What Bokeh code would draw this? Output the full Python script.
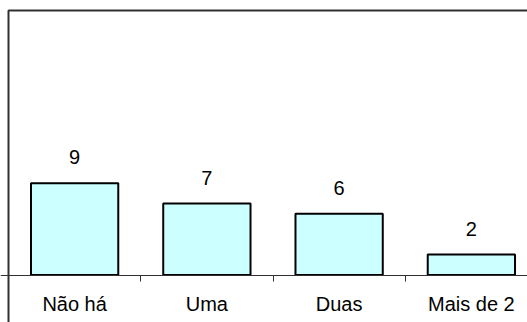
from bokeh.plotting import figure
from bokeh.models import (ColumnDataSource, LinearAxis, FixedTicker, Range1d,
                          LabelSet)
from bokeh.core.properties import value
from bokeh.embed import file_html
from bokeh.resources import INLINE

# Data
categories = ["Não há", "Uma", "Duas", "Mais de 2"]
counts = [9, 7, 6, 2]

FONT = "Liberation Sans"
W, H = 527, 322

# Pixel layout of the plot: origin of the category axis and scale
X0_PX = 8.0        # left edge of the first category
CAT_PX = 132.25    # width of one category slot
Y0_PX = 274.5      # baseline (value 0)
UNIT_PX = 10.2     # pixels per count
TOP_PX = 10.0      # top border

x_start = -X0_PX / CAT_PX
x_end = (W - X0_PX) / CAT_PX
y_end = Y0_PX / UNIT_PX
y_start = -(H - Y0_PX) / UNIT_PX
y_border = (Y0_PX - TOP_PX) / UNIT_PX

p = figure(width=W, height=H, output_backend="svg", toolbar_location=None,
           x_axis_type=None, y_axis_type=None,
           x_range=Range1d(x_start, x_end), y_range=Range1d(y_start, y_end),
           min_border=0, min_border_left=0, min_border_right=0,
           min_border_top=0, min_border_bottom=0)
p.outline_line_color = None
p.grid.visible = False
p.background_fill_color = "white"
p.border_fill_color = "white"

centers = [i + 0.5 for i in range(len(categories))]
src = ColumnDataSource(dict(x=centers, top=counts, cat=categories,
                            lab=[str(c) for c in counts]))

# Chart border (left and top edges visible)
p.quad(left=[0], right=[x_end + 1], top=[y_border], bottom=[y_start - 1],
       fill_color=None, line_color="#303030", line_width=2)

# Bars
p.vbar(x="x", top="top", bottom=0, width=0.66, source=src,
       fill_color="#CCFFFF", line_color="#000000", line_width=2)

# Value labels above the bars
labels = LabelSet(x="x", y="top", text="lab", source=src, y_offset=26,
                  text_align="center", text_baseline="middle",
                  text_font=value(FONT), text_font_size=value("20px"),
                  text_color="black")
p.add_layout(labels)

# Category axis: tick marks between categories
tick_axis = LinearAxis(ticker=FixedTicker(ticks=[1, 2, 3]), fixed_location=0,
                       major_label_text_alpha=0, major_label_text_font_size="1px",
                       major_tick_in=0, major_tick_out=6,
                       major_tick_line_color="#303030",
                       minor_tick_line_color=None,
                       axis_line_color="#303030", axis_line_width=1)
p.add_layout(tick_axis, "below")

# Category axis: labels centred in each slot
label_axis = LinearAxis(ticker=FixedTicker(ticks=centers), fixed_location=0,
                        major_label_overrides={c: n for c, n in zip(centers, categories)},
                        major_tick_line_color=None, minor_tick_line_color=None,
                        major_tick_in=0, major_tick_out=0,
                        axis_line_color=None, major_label_standoff=18,
                        major_label_text_font=FONT,
                        major_label_text_font_size="20px",
                        major_label_text_color="black")
p.add_layout(label_axis, "below")

open("out.html", "w").write(file_html(p, INLINE))
